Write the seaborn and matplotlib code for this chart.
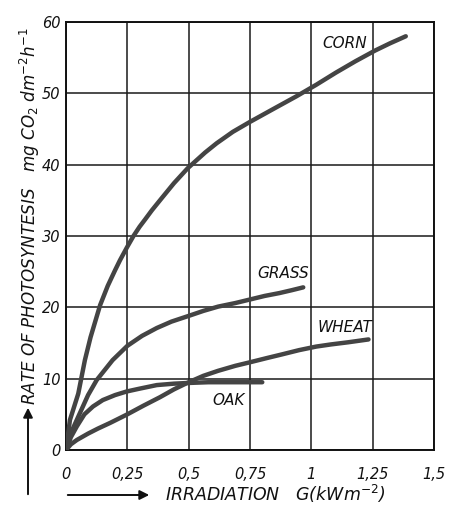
import matplotlib
matplotlib.use("Agg")
import matplotlib.pyplot as plt
import seaborn as sns
import pandas as pd

sns.set_style("white")
plt.rcParams['font.family'] = ['DejaVu Sans']
plt.rcParams['mathtext.fontset'] = 'dejavusans'

# valores (irradiacion kW/m2, mg CO2 dm-2 h-1)
corn_x = [0, 0.016, 0.05, 0.077, 0.1, 0.139, 0.17, 0.2, 0.22, 0.25, 0.275, 0.3, 0.322, 0.35,
          0.39, 0.44, 0.496, 0.567, 0.614, 0.68, 0.75, 0.85, 0.94, 1.02, 1.1, 1.18, 1.26, 1.32, 1.385]
corn_y = [0, 4.2, 7.9, 12.6, 15.8, 20.3, 23.0, 25.2, 26.6, 28.5, 30.0, 31.3, 32.3, 33.6,
          35.3, 37.4, 39.5, 41.7, 43.0, 44.6, 46.0, 47.9, 49.6, 51.2, 52.9, 54.5, 56.0, 57.0, 58.0]

grass_x = [0, 0.02, 0.057, 0.09, 0.125, 0.19, 0.25, 0.31, 0.37, 0.43, 0.5, 0.56, 0.62, 0.69,
           0.75, 0.81, 0.87, 0.92, 0.967]
grass_y = [0, 2.4, 5.2, 7.7, 9.8, 12.6, 14.6, 16.0, 17.1, 18.0, 18.8, 19.5, 20.1, 20.6,
           21.1, 21.6, 22.0, 22.4, 22.8]

wheat_x = [0, 0.02, 0.044, 0.09, 0.13, 0.18, 0.25, 0.315, 0.383, 0.44, 0.5, 0.56, 0.62, 0.69,
           0.75, 0.82, 0.88, 0.95, 1.02, 1.08, 1.15, 1.233]
wheat_y = [0, 0.8, 1.4, 2.3, 3.0, 3.8, 5.0, 6.2, 7.4, 8.5, 9.5, 10.4, 11.1, 11.8,
           12.3, 12.9, 13.4, 14.0, 14.5, 14.8, 15.1, 15.5]

oak_x = [0, 0.02, 0.044, 0.075, 0.11, 0.15, 0.2, 0.247, 0.3, 0.37, 0.44, 0.5, 0.58, 0.65, 0.72, 0.8]
oak_y = [0, 1.8, 3.3, 5.0, 6.1, 7.0, 7.7, 8.2, 8.6, 9.1, 9.3, 9.4, 9.5, 9.5, 9.5, 9.5]

series = {"CORN": (corn_x, corn_y), "GRASS": (grass_x, grass_y),
          "WHEAT": (wheat_x, wheat_y), "OAK": (oak_x, oak_y)}
label_pos = {"CORN": (1.044, 57.0), "GRASS": (0.779, 24.7),
             "WHEAT": (1.027, 17.2), "OAK": (0.595, 7.0)}

x_ticks = [0, 0.25, 0.5, 0.75, 1, 1.25, 1.5]
x_tick_labels = ["0", "0,25", "0,5", "0,75", "1", "1,25", "1,5"]
y_ticks = [0, 10, 20, 30, 40, 50, 60]

filas = []
for nombre, (xs, ys) in series.items():
    for a, b in zip(xs, ys):
        filas.append({"planta": nombre, "G": a, "P": b})
df = pd.DataFrame(filas)

fig = plt.figure(figsize=(4.49, 5.07), dpi=100)
ax = fig.add_axes([66 / 449, 1 - 450 / 507, 368 / 449, 428 / 507])

sns.lineplot(data=df, x="G", y="P", units="planta", estimator=None, sort=False,
             color="#444444", linewidth=3.2, ax=ax, zorder=3)
for l in ax.get_lines():
    l.set_solid_capstyle("round")
    l.set_solid_joinstyle("round")

for nombre, (lx, ly) in label_pos.items():
    ax.text(lx, ly, nombre, style="italic", fontsize=11, ha="left", va="center", color="#111111")

ax.set_xlim(0, 1.5)
ax.set_ylim(0, 60)
ax.set_xticks(x_ticks)
ax.set_xticklabels(x_tick_labels)
ax.set_yticks(y_ticks)
ax.grid(True, color="#1a1a1a", linewidth=1.1)
ax.set_axisbelow(True)
for s in ax.spines.values():
    s.set_color("#111111")
    s.set_linewidth(1.4)
ax.tick_params(length=0, labelsize=10.5, colors="#111111")
ax.tick_params(axis="x", pad=12)
ax.tick_params(axis="y", pad=4)
for t in ax.get_xticklabels() + ax.get_yticklabels():
    t.set_style("italic")
ax.set_xlabel("")
ax.set_ylabel("")

# etiquetas de ejes con flechas
xlab = fig.text(165 / 449, 1 - 494 / 507, "IRRADIATION   G(kWm$^{-2}$)", style="italic",
                fontsize=12, ha="left", va="center", color="#111111")
ax.annotate("", xy=(152 / 449, 1 - 495 / 507), xytext=(65 / 449, 1 - 495 / 507),
            xycoords="figure fraction", textcoords="figure fraction",
            arrowprops=dict(arrowstyle="-|>", color="#111111", lw=1.4, mutation_scale=14))
ylab = fig.text(30 / 449, 1 - 405 / 507, "RATE OF PHOTOSYNTESIS   mg CO$_2$ dm$^{-2}$h$^{-1}$",
                style="italic", fontsize=12, rotation=90, ha="center", va="bottom",
                color="#111111")
ax.annotate("", xy=(28 / 449, 1 - 405 / 507), xytext=(28 / 449, 1 - 497 / 507),
            xycoords="figure fraction", textcoords="figure fraction",
            arrowprops=dict(arrowstyle="-|>", color="#111111", lw=1.4, mutation_scale=14))

# ajustar el tamaño de las etiquetas al largo que tienen en la figura original
fig.canvas.draw()
r = fig.canvas.get_renderer()
xlab.set_fontsize(12 * 220 / xlab.get_window_extent(r).width)
ylab.set_fontsize(12 * 378 / ylab.get_window_extent(r).height)

fig.savefig("out.png", dpi=100)
